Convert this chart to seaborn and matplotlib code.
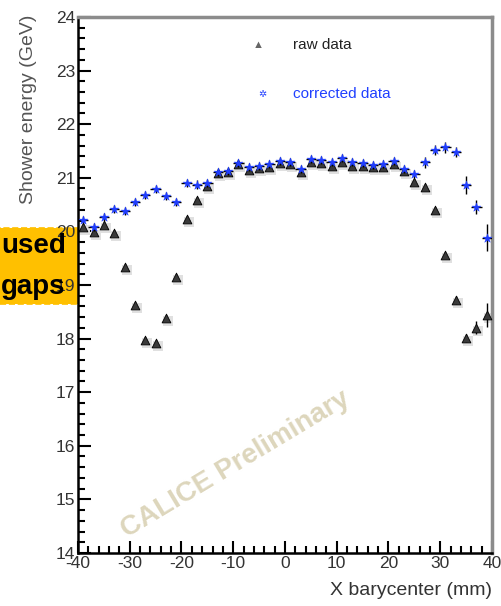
import numpy as np
import pandas as pd
import matplotlib.pyplot as plt
import matplotlib.patches as mpatches
import matplotlib.transforms as mtransforms
from matplotlib.ticker import MultipleLocator
import seaborn as sns

# bin centres (mm)
x_bins = [-39, -37, -35, -33, -31, -29, -27, -25, -23, -21,
          -19, -17, -15, -13, -11, -9, -7, -5, -3, -1,
          1, 3, 5, 7, 9, 11, 13, 15, 17, 19,
          21, 23, 25, 27, 29, 31, 33, 35, 37, 39]

# raw shower energy (GeV)
raw_energy = [20.08, 19.99, 20.12, 19.97, 19.34, 18.63, 17.97, 17.92, 18.38, 19.15,
              20.23, 20.59, 20.85, 21.08, 21.10, 21.25, 21.15, 21.18, 21.20, 21.27,
              21.25, 21.10, 21.30, 21.27, 21.22, 21.30, 21.22, 21.22, 21.20, 21.20,
              21.25, 21.12, 20.92, 20.83, 20.40, 19.56, 18.72, 18.01, 18.20, 18.44]
raw_err = [0.06, 0.05, 0.05, 0.05, 0.06, 0.06, 0.06, 0.06, 0.06, 0.05,
           0.05, 0.05, 0.05, 0.05, 0.05, 0.05, 0.05, 0.05, 0.05, 0.05,
           0.05, 0.05, 0.05, 0.05, 0.05, 0.05, 0.05, 0.05, 0.05, 0.05,
           0.05, 0.05, 0.05, 0.05, 0.06, 0.06, 0.07, 0.08, 0.12, 0.22]

# corrected shower energy (GeV)
corr_energy = [20.21, 20.08, 20.27, 20.42, 20.38, 20.55, 20.68, 20.79, 20.66, 20.55,
               20.90, 20.87, 20.90, 21.11, 21.13, 21.28, 21.20, 21.22, 21.26, 21.31,
               21.29, 21.16, 21.35, 21.33, 21.29, 21.37, 21.29, 21.28, 21.24, 21.26,
               21.31, 21.16, 21.07, 21.29, 21.52, 21.57, 21.48, 20.87, 20.46, 19.88]
corr_err = [0.08, 0.07, 0.07, 0.07, 0.07, 0.08, 0.08, 0.08, 0.08, 0.08,
            0.08, 0.08, 0.07, 0.07, 0.07, 0.07, 0.07, 0.07, 0.07, 0.07,
            0.07, 0.07, 0.07, 0.07, 0.07, 0.07, 0.07, 0.07, 0.07, 0.07,
            0.07, 0.07, 0.08, 0.10, 0.10, 0.10, 0.10, 0.17, 0.13, 0.25]

bin_half = 1.0

df = pd.DataFrame({'x': x_bins, 'raw': raw_energy, 'raw_err': raw_err,
                   'corr': corr_energy, 'corr_err': corr_err})

sns.set_style('ticks')
plt.rcParams['font.family'] = ['Liberation Sans', 'DejaVu Sans']
plt.rcParams['axes.unicode_minus'] = False

fig = plt.figure(figsize=(5.02, 6.06), dpi=100)
ax = fig.add_axes([0.1554, 0.0875, 0.8246, 0.8845])

# soft grey shadow under the points (scanned look of the original)
shadow = ax.transData + mtransforms.ScaledTranslation(2 / 100, -3 / 100, fig.dpi_scale_trans)
ax.scatter(df['x'], df['raw'], marker='s', s=55, color='#e0e0e0',
           linewidths=0, transform=shadow, zorder=1)

# raw data
ax.errorbar(df['x'], df['raw'], yerr=df['raw_err'], fmt='none',
            ecolor='black', elinewidth=1.0, capsize=0, zorder=2)
sns.scatterplot(data=df, x='x', y='raw', ax=ax, marker='^', s=40,
                color='#3a3a3a', edgecolor='black', linewidth=0.6, zorder=3)

# corrected data
ax.errorbar(df['x'], df['corr'], xerr=bin_half, yerr=df['corr_err'], fmt='none',
            ecolor='black', elinewidth=1.0, capsize=0, zorder=4)
sns.scatterplot(data=df, x='x', y='corr', ax=ax, marker='*', s=45,
                color='#1f3dff', edgecolor='#1f3dff', linewidth=0.3, zorder=5)

ax.set_xlim(-40, 40)
ax.set_ylim(14, 24)
ax.xaxis.set_major_locator(MultipleLocator(10))
ax.xaxis.set_minor_locator(MultipleLocator(2))
ax.yaxis.set_major_locator(MultipleLocator(1))
ax.yaxis.set_minor_locator(MultipleLocator(0.2))
ax.tick_params(which='both', direction='in', top=False, right=False,
               colors='black', labelcolor='#333333', labelsize=12.5, width=1.5)
ax.tick_params(which='major', length=9, pad=2)
ax.tick_params(which='minor', length=5)

for side in ['left', 'bottom']:
    ax.spines[side].set_linewidth(1.8)
    ax.spines[side].set_color('black')
for side in ['top', 'right']:
    ax.spines[side].set_visible(True)
    ax.spines[side].set_linewidth(2.5)
    ax.spines[side].set_color('#8c8c8c')

ax.set_xlabel('X barycenter (mm)', fontsize=14, color='#333333')
ax.xaxis.set_label_coords(1.0, -0.055)
ax.xaxis.label.set_ha('right')
ax.set_ylabel('Shower energy (GeV)', fontsize=14, color='#555555')
ax.yaxis.set_label_coords(-0.14, 1.005)
ax.yaxis.label.set_va('top')
ax.yaxis.label.set_ha('right')

# legend
ax.text(0.435, 0.947, '\u25b2', transform=ax.transAxes, fontsize=8,
        color='#666666', ha='center', va='center')
ax.text(0.52, 0.947, 'raw data', transform=ax.transAxes, fontsize=11,
        color='#222222', va='center')
ax.text(0.445, 0.857, '\u2732', transform=ax.transAxes, fontsize=7,
        color='#1f3dff', ha='center', va='center')
ax.text(0.52, 0.857, 'corrected data', transform=ax.transAxes, fontsize=11,
        color='#2040ff', va='center')

# watermark
ax.text(0.38, 0.165, 'CALICE Preliminary', transform=ax.transAxes, fontsize=20,
        fontweight='bold', color='#ddd6bc', rotation=31, ha='center',
        va='center', zorder=0)

# annotation box from the slide
box = mpatches.Rectangle((0.0, 0.499), 0.172, 0.124, transform=fig.transFigure,
                         facecolor='#ffc000', edgecolor='#ffc000',
                         linestyle='--', linewidth=1.2, zorder=-1)
fig.patches.append(box)
fig.text(0.002, 0.594, 'used', fontsize=20, fontweight='bold', color='black',
         ha='left', va='center')
fig.text(0.002, 0.527, 'gaps', fontsize=20, fontweight='bold', color='black',
         ha='left', va='center')

fig.savefig('out.png', dpi=100)
